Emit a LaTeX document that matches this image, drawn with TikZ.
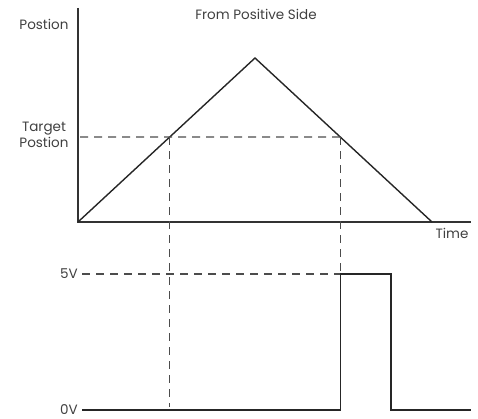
\documentclass[tikz,border=0pt]{standalone}
\usepackage{fontspec}
\setmainfont{Poppins}
\usepackage{tikz}
\usetikzlibrary{positioning, calc}

\begin{document}
\begin{tikzpicture}[
    x=1pt, y=-1pt,
    every node/.style={font=\fontsize{13.5}{15}\selectfont, text=black!75, inner sep=1pt},
    axis/.style={line width=1.4pt, color=black!80},
    trace/.style={line width=1.4pt, color=black!85},
    guide/.style={line width=1.3pt, dash pattern=on 8pt off 6pt, color=black!70},
    vlab/.style={anchor=east, inner sep=1pt}
]
\useasboundingbox (0,0) rectangle (478,419);

% Axes
\coordinate (orig) at (78,222);
\coordinate (ytop) at (78,8);
\coordinate (xend) at (471,222);
\draw[axis] (ytop) -- (orig) -- (xend);

% Labels
\node (pos)   at (44,24)  {Postion};
\node[align=center, font=\fontsize{13.5}{16}\selectfont] (tgt) at (44,135) {Target\\Postion};
\node (title) at (256,14) {From Positive Side};
\node (time)  at (452,233) {Time};

% Position ramp
\coordinate (peak) at (255,58);
\coordinate (stop) at (432,222);
\draw[trace] (orig) -- (peak) -- (stop);

% Target crossings
\coordinate (tstart) at (80,137);
\coordinate (rise) at ($(orig)!0.518!(peak)$);
\coordinate (fall) at ($(peak)!0.482!(stop)$);
\draw[guide] (tstart) -- (fall);

% Output levels
\node[vlab] (v5) at (79,274) {5V};
\node[vlab] (v0) at (79,410) {0V};
\coordinate (hi) at (fall |- v5);
\coordinate (lo) at (fall |- v0);
\coordinate (hiend) at (391,274);
\coordinate (loend) at (391,410);
\coordinate (tail) at (471,410);
\coordinate (risebot) at (rise |- v0);
\draw[guide] ([xshift=3pt]v5.east) -- (hi);
\draw[guide] (rise) -- ([yshift=3pt]risebot);
\draw[guide] (fall) -- (hi);

% Pulse
\draw[trace] ([xshift=3pt]v0.east) -- (lo) -- (hi) -- (hiend) -- (loend) -- (tail);
\end{tikzpicture}
\end{document}
